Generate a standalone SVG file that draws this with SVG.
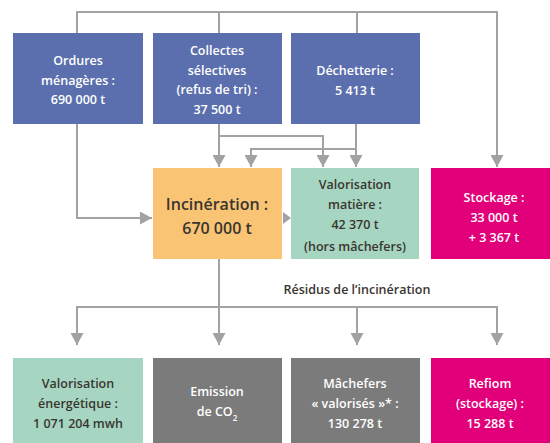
<svg xmlns="http://www.w3.org/2000/svg" width="550" height="443" viewBox="0 0 550 443">
<style>
.box{stroke:none}
.blue{fill:#5b6fae}
.orange{fill:#f9c474}
.green{fill:#a6d5c1}
.pink{fill:#e2007a}
.gray{fill:#7b7b7b}
text{font-family:"Open Sans","Liberation Sans",sans-serif;font-weight:600;font-size:12.5px;text-anchor:middle}
.w{fill:#ffffff}
.d{fill:#3a3530}
.big{font-size:16px}
.conn{fill:none;stroke:#a2a2a2;stroke-width:2}
</style>
<defs>
<marker id="ah" markerUnits="userSpaceOnUse" markerWidth="12" markerHeight="13" refX="12" refY="6.5" orient="auto">
<path d="M0,0 L12,6.5 L0,13 z" fill="#a2a2a2"/>
</marker>
</defs>
<g id="connectors">
<path class="conn" d="M77,33 V12 H497 V167" marker-end="url(#ah)"/>
<path class="conn" d="M219,12 V33"/>
<path class="conn" d="M357,12 V33"/>
<path class="conn" d="M77,124 V218 H152" marker-end="url(#ah)"/>
<path class="conn" d="M219,124 V167" marker-end="url(#ah)"/>
<path class="conn" d="M219,136 H323 V167" marker-end="url(#ah)"/>
<path class="conn" d="M356,124 V167" marker-end="url(#ah)"/>
<path class="conn" d="M356,149 H251 V167" marker-end="url(#ah)"/>
<polygon points="283,212 291,218 283,224" fill="#a2a2a2"/>
<path class="conn" d="M219,259 V307"/>
<path class="conn" d="M77,345 V307 H497 V345" marker-end="url(#ah)"/>
<path class="conn" d="M77,307 V345" marker-end="url(#ah)"/>
<path class="conn" d="M219,307 V345" marker-end="url(#ah)"/>
<path class="conn" d="M357,307 V345" marker-end="url(#ah)"/>
</g>
<g id="ordures">
<rect class="box blue" x="13" y="33" width="130" height="91"/>
<text class="w" x="78" y="65">Ordures</text>
<text class="w" x="78" y="85">ménagères :</text>
<text class="w" x="78" y="104">690 000 t</text>
</g>
<g id="collectes">
<rect class="box blue" x="153" y="33" width="129" height="91"/>
<text class="w" x="217" y="55">Collectes</text>
<text class="w" x="217" y="74.5">sélectives</text>
<text class="w" x="217" y="94">(refus de tri) :</text>
<text class="w" x="217" y="113.5">37 500 t</text>
</g>
<g id="dechetterie">
<rect class="box blue" x="291" y="33" width="129" height="91"/>
<text class="w" x="355" y="75">Déchetterie :</text>
<text class="w" x="355" y="95">5 413 t</text>
</g>
<g id="incineration">
<rect class="box orange" x="153" y="168" width="129" height="91"/>
<text class="d big" x="217" y="210">Incinération :</text>
<text class="d big" x="217" y="234">670 000 t</text>
</g>
<g id="valorisation-matiere">
<rect class="box green" x="291" y="168" width="128" height="91"/>
<text class="d" x="355" y="189">Valorisation</text>
<text class="d" x="355" y="209">matière :</text>
<text class="d" x="355" y="229">42 370 t</text>
<text class="d" x="355" y="251">(hors mâchefers)</text>
</g>
<g id="stockage">
<rect class="box pink" x="431" y="168" width="119" height="91"/>
<text class="w" x="494" y="202">Stockage :</text>
<text class="w" x="494" y="222">33 000 t</text>
<text class="w" x="494" y="242">+ 3 367 t</text>
</g>
<g id="residus-label">
<text class="d" x="357" y="294" font-size="12">Résidus de l’incinération</text>
</g>
<g id="valorisation-energetique">
<rect class="box green" x="13" y="358" width="130" height="85"/>
<text class="d" x="78" y="388">Valorisation</text>
<text class="d" x="78" y="408">énergétique :</text>
<text class="d" x="78" y="428">1 071 204 mwh</text>
</g>
<g id="emission">
<rect class="box gray" x="153" y="358" width="129" height="85"/>
<text class="w" x="217" y="396">Emission</text>
<text class="w" x="217" y="416">de CO<tspan font-size="8" dy="5">2</tspan></text>
</g>
<g id="machefers">
<rect class="box gray" x="291" y="358" width="129" height="85"/>
<text class="w" x="355" y="388">Mâchefers</text>
<text class="w" x="355" y="408">« valorisés »* :</text>
<text class="w" x="355" y="428">130 278 t</text>
</g>
<g id="refiom">
<rect class="box pink" x="431" y="358" width="119" height="85"/>
<text class="w" x="490" y="388">Refiom</text>
<text class="w" x="490" y="408">(stockage) :</text>
<text class="w" x="490" y="428">15 288 t</text>
</g>
</svg>
